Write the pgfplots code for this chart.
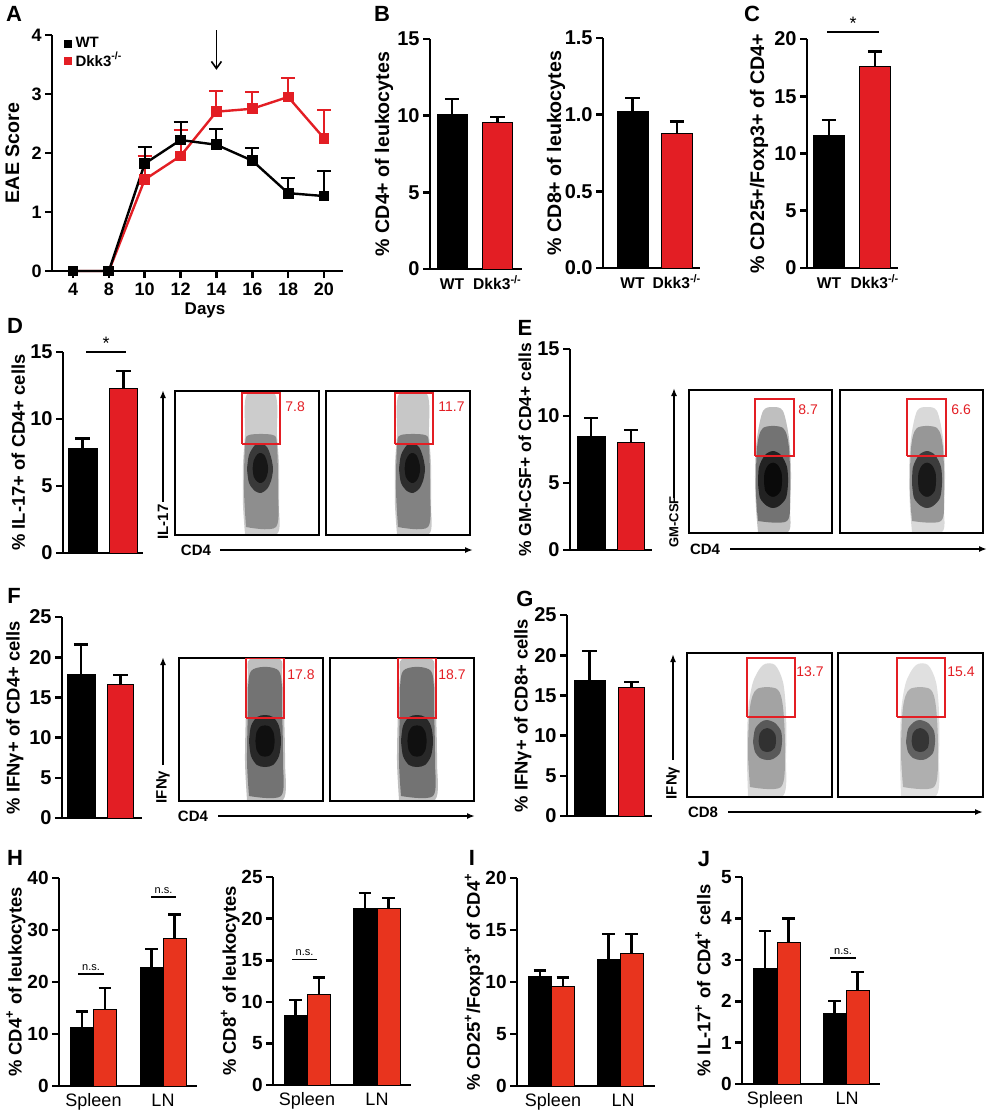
\documentclass[border=0pt]{standalone}
\usepackage{fontspec}
\setmainfont{Liberation Sans}
\usepackage{pgfplots}
\pgfplotsset{compat=1.18}
\usepackage{pgfplotstable}
\usetikzlibrary{arrows.meta}
\definecolor{rd}{RGB}{227,30,36}
\definecolor{rdh}{RGB}{232,52,30}
\newcommand\tk{\bfseries\fontsize{10}{12}\selectfont}
\newcommand\tka{\bfseries\fontsize{9}{11}\selectfont}
\newcommand\tks{\bfseries\fontsize{9.5}{11}\selectfont}
\newcommand\lb{\bfseries\fontsize{9.8}{12}\selectfont}
\newcommand\lbm{\bfseries\fontsize{9.2}{11}\selectfont}
\newcommand\lbs{\bfseries\fontsize{9.2}{11}\selectfont}
\newcommand\pl{\bfseries\fontsize{11}{13}\selectfont}
\newcommand\gt{\fontsize{7}{8}\selectfont}
\newcommand\dl{\bfseries\fontsize{7.5}{9}\selectfont}
\newcommand\cat{\bfseries\fontsize{7.8}{9}\selectfont}

% ---- flow cytometry cloud outlines (x offset from cloud centre, y in box px)
\pgfplotstableread{
x y
-16 1
16 1
18 30
18 70
16 100
14 141
-14 141
-16 100
-18 70
-18 30
-16 1
}\cDo
\pgfplotstableread{
x y
-15 8
15 8
17 45
16 90
12 100
-12 100
-16 90
-17 45
-15 8
}\cDm
\pgfplotstableread{
x y
-14 66
-12 80
-6 90
0 92
6 88
10 78
12 66
10 54
6 46
0 42
-6 44
-12 52
-14 66
}\cDc
\pgfplotstableread{
x y
-15 1
15 1
17 25
18 60
16 95
10 122
0 126
-10 122
-16 95
-18 60
-17 25
-15 1
}\cEo
\pgfplotstableread{
x y
-15 12
14 12
17 40
16 85
10 105
-10 105
-16 85
-17 40
-15 12
}\cEm
\pgfplotstableread{
x y
-15 50
-14 66
-8 78
0 82
8 78
14 66
15 50
13 35
6 27
0 25
-6 27
-13 35
-15 50
}\cEc
\pgfplotstableread{
x y
-18 1
18 1
20 40
19 90
17 125
15 142
-15 142
-17 125
-19 90
-20 40
-18 1
}\cFo
\pgfplotstableread{
x y
-16 5
16 5
18 40
17 90
14 130
-14 130
-17 90
-18 40
-16 5
}\cFm
\pgfplotstableread{
x y
-16 60
-14 75
-8 84
0 86
8 84
14 75
16 60
14 45
8 36
0 34
-8 36
-14 45
-16 60
}\cFc
\pgfplotstableread{
x y
-19 1
16 1
19 40
19 85
16 115
8 132
-4 132
-14 115
-19 85
-20 40
-19 1
}\cGo
\pgfplotstableread{
x y
-17 10
14 10
18 45
16 90
10 108
-10 108
-17 90
-19 45
-17 10
}\cGm
\pgfplotstableread{
x y
-14 55
-12 68
-6 75
0 77
8 74
14 66
15 55
13 44
6 38
0 37
-7 39
-12 45
-14 55
}\cGc

% #1 outer, #2 middle, #3 core table, #4 centre x, #5 core centre y, #6-#9 opacities
\newcommand\cloud[9]{%
 \addplot[draw=none,fill=black,fill opacity=#6,smooth,tension=0.5] table[x expr=\thisrow{x}+#4]{#1};
 \addplot[draw=none,fill=black,fill opacity=#7,smooth,tension=0.5] table[x expr=\thisrow{x}+#4]{#2};
 \addplot[draw=none,fill=black,fill opacity=#8,smooth,tension=0.5] table[x expr=\thisrow{x}+#4]{#3};
 \addplot[draw=none,fill=black,fill opacity=#9,smooth,tension=0.5] table[x expr=0.6*\thisrow{x}+#4, y expr=0.6*\thisrow{y}+0.4*#5]{#3};}
\newcommand\gate[7]{%
 \addplot[rd, line width=0.9pt, line join=miter] coordinates {(#1,#3)(#2,#3)(#2,#4)(#1,#4)(#1,#3)};
 \node[anchor=west, text=rd, font=\gt, inner sep=0pt] at (axis cs:#6,#7) {#5};}

\pgfplotsset{
 base/.style={scale only axis, clip=false, axis lines=left,
   axis line style={line width=1.3pt,-}, tick style={line width=1.3pt,black},
   major tick length=3.5pt, tick align=outside, ymin=0,
   yticklabel style={font=\tk, inner sep=1.5pt}, xticklabel style={font=\tk},
   ylabel style={font=\lb, anchor=center},
   /pgf/number format/assume math mode=true},
 ylx/.style={ylabel style={at={(axis description cs:#1,0.5)}}},
 barax/.style={base, xmin=0, xtick style={draw=none},
   xticklabel style={font=\cat, yshift=3pt, text height=6pt, text depth=1.5pt}},
 mid/.style={ylabel style={font=\lbm}},
 small/.style={yticklabel style={font=\tks}, ylabel style={font=\lbs},
   xticklabel style={font=\fontsize{9}{11}\selectfont}},
 ebar/.style={error bars/.cd, y dir=plus, y explicit, error bar style={line width=1.2pt, black},
   error mark options={rotate=90, line width=1.2pt, black, mark size=#1}},
 bk/.style={ybar, bar shift=0pt, bar width=#1, fill=black, draw=black, line width=0.5pt, ebar=3.6pt},
 rb/.style={ybar, bar shift=0pt, bar width=#1, fill=rd, draw=black, line width=0.5pt, ebar=3.6pt},
 bkh/.style={ybar, bar shift=0pt, bar width=#1, fill=black, draw=black, line width=0.5pt, ebar=3.2pt},
 rh/.style={ybar, bar shift=0pt, bar width=#1, fill=rdh, draw=black, line width=0.5pt, ebar=3.2pt},
 dot/.style={scale only axis, ticks=none, axis line style={line width=0.9pt},
   xmin=0, ymin=0, clip=true},
}

\begin{document}
\begin{tikzpicture}
\path[use as bounding box] (0,0) rectangle (496pt,-556.5pt);

% ---------------- Panel letters
\node[font=\pl] at (7pt,-7pt) {A};
\node[font=\pl] at (191pt,-7pt) {B};
\node[font=\pl] at (376pt,-7pt) {C};
\node[font=\pl] at (7.5pt,-163pt) {D};
\node[font=\pl] at (262.5pt,-164pt) {E};
\node[font=\pl] at (7pt,-298pt) {F};
\node[font=\pl] at (262.5pt,-299.5pt) {G};
\node[font=\pl] at (7.5pt,-429pt) {H};
\node[font=\pl] at (236pt,-429pt) {I};
\node[font=\pl] at (352pt,-429.5pt) {J};

% ---------------- A
\begin{axis}[base, at={(26pt,-135.5pt)}, anchor=south west, width=145.5pt, height=118pt,
  xmin=-0.586, xmax=7.53, ymax=4, ytick={0,1,2,3,4},
  yticklabel style={font=\tka}, xticklabel style={font=\tka, yshift=1pt},
  xtick={0,1,2,3,4,5,6,7}, xticklabels={4,8,10,12,14,16,18,20},
  ylabel={EAE Score}, ylx=-0.136,
  xlabel={Days}, xlabel style={font=\bfseries\fontsize{8.5}{10}\selectfont, at={(axis description cs:0.526,-0.165)}, anchor=center},
  legend style={at={(0.041,1.01)}, anchor=north west, draw=none, fill=none,
    font=\bfseries\fontsize{7.5}{9}\selectfont, inner sep=0pt, row sep=-3pt},
  legend cell align=left,
  legend image code/.code={\draw[mark repeat=2,mark phase=2,#1] plot coordinates {(0cm,0cm)(0.12cm,0cm)(0.24cm,0cm)};}]
\addlegendimage{only marks, mark=square*, mark size=1.8pt, black}
\addlegendentry{WT}
\addlegendimage{only marks, mark=square*, mark size=1.8pt, rd}
\addlegendentry{Dkk3\textsuperscript{-/-}}
\addplot[rd, line width=1.2pt, mark=square*, mark size=2.1pt, forget plot,
  error bars/.cd, y dir=plus, y explicit, error bar style={line width=1pt, rd},
  error mark options={rotate=90, line width=1pt, rd, mark size=3.5pt}]
  coordinates {(0,0) +- (0,0) (1,0) +- (0,0) (2,1.55) +- (0,0.40) (3,1.95) +- (0,0.44)
   (4,2.70) +- (0,0.35) (5,2.75) +- (0,0.28) (6,2.95) +- (0,0.32) (7,2.25) +- (0,0.48)};
\addplot[black, line width=1.2pt, mark=square*, mark size=2.1pt, forget plot,
  error bars/.cd, y dir=plus, y explicit, error bar style={line width=1pt, black},
  error mark options={rotate=90, line width=1pt, black, mark size=3.5pt}]
  coordinates {(0,0) +- (0,0) (1,0) +- (0,0) (2,1.82) +- (0,0.28) (3,2.22) +- (0,0.30)
   (4,2.14) +- (0,0.27) (5,1.87) +- (0,0.21) (6,1.32) +- (0,0.25) (7,1.27) +- (0,0.42)};
\draw[line width=0.8pt, -{Straight Barb[length=3.5pt,width=5pt]}] (axis cs:4,4.08) -- (axis cs:4,3.41);
\end{axis}

% ---------------- B1
\begin{axis}[barax, at={(215pt,-134.5pt)}, anchor=south west, width=46pt, height=115pt,
  xmax=92, ymax=15, ytick={0,5,10,15}, xtick={22,67.5}, xticklabels={WT,Dkk3\textsuperscript{-/-}},
  ylabel={\% CD4+ of leukocytes}, ylx=-0.5]
\addplot[bk=30] coordinates {(22,10.05) +- (0,1.05)};
\addplot[rb=30] coordinates {(67.5,9.55) +- (0,0.35)};
\end{axis}

% ---------------- B2
\begin{axis}[barax, at={(301.5pt,-134pt)}, anchor=south west, width=48.5pt, height=115pt,
  xmax=97, ymax=1.5, ytick={0,0.5,1,1.5},
  yticklabel style={/pgf/number format/.cd, fixed, fixed zerofill, precision=1},
  xtick={29.5,74}, xticklabels={WT,Dkk3\textsuperscript{-/-}},
  ylabel={\% CD8+ of leukocytes}, ylx=-0.485]
\addplot[bk=31] coordinates {(29.5,1.02) +- (0,0.09)};
\addplot[rb=31] coordinates {(74,0.875) +- (0,0.08)};
\end{axis}

% ---------------- C
\begin{axis}[barax, at={(403.5pt,-134pt)}, anchor=south west, width=45.5pt, height=114.5pt,
  xmax=91, ymax=20, ytick={0,5,10,15,20}, xtick={22,68}, xticklabels={WT,Dkk3\textsuperscript{-/-}},
  ylabel={\% CD25+/Foxp3+ of CD4+}, ylx=-0.527]
\addplot[bk=31] coordinates {(22,11.6) +- (0,1.3)};
\addplot[rb=31] coordinates {(68,17.6) +- (0,1.3)};
\draw[line width=0.8pt] (axis cs:20,20.6) -- (axis cs:72,20.6);
\node[anchor=base, font=\fontsize{9}{10}\selectfont, inner sep=0pt] at (axis cs:46,20.8) {*};
\end{axis}

% ---------------- D
\begin{axis}[barax, mid, at={(31.5pt,-276.5pt)}, anchor=south west, width=40pt, height=100.5pt,
  xmax=80, ymax=15, ytick={0,5,10,15}, xtick=\empty,
  ylabel={\% IL-17+ of CD4+ cells}, ylx=-0.56]
\addplot[bk=29] coordinates {(19.5,7.8) +- (0,0.75)};
\addplot[rb=28] coordinates {(60.5,12.25) +- (0,1.35)};
\draw[line width=0.8pt] (axis cs:23,15) -- (axis cs:63,15);
\node[anchor=base, font=\fontsize{9}{10}\selectfont, inner sep=0pt] at (axis cs:43,15.15) {*};
\end{axis}
\begin{axis}[dot, at={(87.5pt,-267.5pt)}, anchor=south west, width=72pt, height=72pt, xmax=144, ymax=144]
\cloud{\cDo}{\cDm}{\cDc}{86}{67}{0.2}{0.3}{0.6}{0.6}
\gate{67}{105}{91}{142}{7.8}{110}{128}
\end{axis}
\begin{axis}[dot, at={(163pt,-267.5pt)}, anchor=south west, width=72pt, height=72pt, xmax=144, ymax=144]
\cloud{\cDo}{\cDm}{\cDc}{87}{67}{0.22}{0.35}{0.65}{0.6}
\gate{69}{107}{91}{142}{11.7}{112}{128}
\end{axis}
\draw[line width=0.8pt, -{Latex[length=4pt,width=3pt]}] (81.5pt,-251pt) -- (81.5pt,-195pt);
\node[rotate=90, font=\dl] at (81.5pt,-261pt) {IL-17};
\node[font=\dl] at (98pt,-275pt) {CD4};
\draw[line width=0.8pt, -{Latex[length=4pt,width=3pt]}] (110pt,-275pt) -- (236.5pt,-275pt);

% ---------------- E
\begin{axis}[barax, at={(285pt,-275pt)}, anchor=south west, width=41pt, height=100.5pt,
  xmax=82, ymax=15, ytick={0,5,10,15}, xtick=\empty, ylabel style={font=\bfseries\fontsize{8.7}{10}\selectfont},
  ylabel={\% GM-CSF+ of CD4+ cells}, ylx=-0.55]
\addplot[bk=28] coordinates {(21,8.45) +- (0,1.4)};
\addplot[rb=27] coordinates {(61,8.0) +- (0,0.95)};
\end{axis}
\begin{axis}[dot, at={(344.5pt,-266.5pt)}, anchor=south west, width=71.5pt, height=71.5pt, xmax=143, ymax=143]
\cloud{\cEo}{\cEm}{\cEc}{84}{53}{0.25}{0.4}{0.7}{0.7}
\gate{66}{105}{77}{134}{8.7}{109}{123}
\end{axis}
\begin{axis}[dot, at={(420pt,-266.5pt)}, anchor=south west, width=71.5pt, height=71.5pt, xmax=143, ymax=143]
\cloud{\cEo}{\cEm}{\cEc}{87}{53}{0.15}{0.3}{0.6}{0.6}
\gate{67}{106}{77}{134}{6.6}{111}{123}
\end{axis}
\draw[line width=0.8pt, -{Latex[length=4pt,width=3pt]}] (337pt,-249pt) -- (337pt,-194pt);
\node[rotate=90, font=\bfseries\fontsize{6.5}{8}\selectfont] at (337pt,-261pt) {GM-CSF};
\node[font=\dl] at (352.5pt,-274.5pt) {CD4};
\draw[line width=0.8pt, -{Latex[length=4pt,width=3pt]}] (365pt,-274.5pt) -- (493.5pt,-274.5pt);

% ---------------- F
\begin{axis}[barax, mid, at={(31pt,-409pt)}, anchor=south west, width=40pt, height=100.5pt,
  xmax=80, ymax=25, ytick={0,5,10,15,20,25}, xtick=\empty,
  ylabel={\% IFNγ+ of CD4+ cells}, ylx=-0.59]
\addplot[bk=28] coordinates {(19,17.8) +- (0,3.8)};
\addplot[rb=26] coordinates {(58.5,16.6) +- (0,1.2)};
\end{axis}
\begin{axis}[dot, at={(89.5pt,-400.5pt)}, anchor=south west, width=72pt, height=71.5pt, xmax=144, ymax=143]
\cloud{\cFo}{\cFm}{\cFc}{86}{60}{0.25}{0.4}{0.65}{0.6}
\gate{67}{105}{83}{143}{17.8}{108}{126}
\end{axis}
\begin{axis}[dot, at={(165pt,-400.5pt)}, anchor=south west, width=72pt, height=71.5pt, xmax=144, ymax=143]
\cloud{\cFo}{\cFm}{\cFc}{87}{60}{0.25}{0.4}{0.65}{0.6}
\gate{68}{106}{83}{143}{18.7}{108}{126}
\end{axis}
\draw[line width=0.8pt, -{Latex[length=4pt,width=3pt]}] (81.5pt,-382.5pt) -- (81.5pt,-328.5pt);
\node[rotate=90, font=\dl] at (81.5pt,-393.5pt) {IFNγ};
\node[font=\dl] at (96.5pt,-408pt) {CD4};
\draw[line width=0.8pt, -{Latex[length=4pt,width=3pt]}] (109pt,-408pt) -- (237.5pt,-408pt);

% ---------------- G
\begin{axis}[barax, mid, at={(283.5pt,-408pt)}, anchor=south west, width=42.5pt, height=100.5pt,
  xmax=85, ymax=25, ytick={0,5,10,15,20,25}, xtick=\empty,
  ylabel={\% IFNγ+ of CD8+ cells}, ylx=-0.52]
\addplot[bk=31] coordinates {(22.5,16.8) +- (0,3.7)};
\addplot[rb=26] coordinates {(64.5,16.0) +- (0,0.7)};
\end{axis}
\begin{axis}[dot, at={(343.5pt,-398.5pt)}, anchor=south west, width=72.5pt, height=72pt, xmax=145, ymax=144]
\cloud{\cGo}{\cGm}{\cGc}{80}{57}{0.15}{0.25}{0.45}{0.45}
\gate{60}{108}{80}{139}{13.7}{109}{125}
\end{axis}
\begin{axis}[dot, at={(419pt,-398.5pt)}, anchor=south west, width=72.5pt, height=72pt, xmax=145, ymax=144]
\cloud{\cGo}{\cGm}{\cGc}{82}{57}{0.12}{0.22}{0.45}{0.45}
\gate{59}{107}{80}{139}{15.4}{109}{125}
\end{axis}
\draw[line width=0.8pt, -{Latex[length=4pt,width=3pt]}] (336.5pt,-380pt) -- (336.5pt,-327pt);
\node[rotate=90, font=\dl] at (336.5pt,-391.5pt) {IFNγ};
\node[font=\dl] at (351.5pt,-406pt) {CD8};
\draw[line width=0.8pt, -{Latex[length=4pt,width=3pt]}] (364pt,-406pt) -- (491.5pt,-406pt);

% ---------------- H1
\begin{axis}[barax, small, at={(29.5pt,-543pt)}, anchor=south west, width=69pt, height=104pt,
  xmax=138, ymax=40, ytick={0,10,20,30,40}, xtick={34.5,104}, xticklabels={Spleen,LN},
  ylabel={\% CD4\textsuperscript{+} of leukocytes}, ylx=-0.312]
\addplot[bkh=23] coordinates {(23,11.3) +- (0,3.0) (92.5,22.8) +- (0,3.5)};
\addplot[rh=23] coordinates {(46,14.8) +- (0,4.1) (115.5,28.4) +- (0,4.6)};
\draw[line width=0.8pt] (axis cs:19,21.5) -- (axis cs:45,21.5);
\node[anchor=base, font=\fontsize{5.5}{6}\selectfont, inner sep=0pt] at (axis cs:32,22.3) {n.s.};
\draw[line width=0.8pt] (axis cs:92,36.3) -- (axis cs:117,36.3);
\node[anchor=base, font=\fontsize{5.5}{6}\selectfont, inner sep=0pt] at (axis cs:104.5,37.1) {n.s.};
\end{axis}

% ---------------- H2
\begin{axis}[barax, small, at={(136.5pt,-542.5pt)}, anchor=south west, width=69pt, height=104pt,
  xmax=138, ymax=25, ytick={0,5,10,15,20,25}, xtick={34,104}, xticklabels={Spleen,LN},
  ylabel={\% CD8\textsuperscript{+} of leukocytes}, ylx=-0.31]
\addplot[bkh=23] coordinates {(22.5,8.3) +- (0,1.9) (92,21.2) +- (0,1.9)};
\addplot[rh=23] coordinates {(46,10.9) +- (0,2.0) (115.5,21.2) +- (0,1.3)};
\draw[line width=0.8pt] (axis cs:19,15.1) -- (axis cs:44,15.1);
\node[anchor=base, font=\fontsize{5.5}{6}\selectfont, inner sep=0pt] at (axis cs:31.5,15.6) {n.s.};
\end{axis}

% ---------------- I
\begin{axis}[barax, small, at={(258.5pt,-543pt)}, anchor=south west, width=69pt, height=104pt,
  xmax=138, ymax=20, ytick={0,5,10,15,20}, xtick={36,106}, xticklabels={Spleen,LN},
  ylabel={\% CD25\textsuperscript{+}/Foxp3\textsuperscript{+} of CD4\textsuperscript{+}}, ylx=-0.31]
\addplot[bkh=23] coordinates {(23,10.5) +- (0,0.6) (91.5,12.2) +- (0,2.4)};
\addplot[rh=23] coordinates {(46,9.55) +- (0,0.9) (114.5,12.75) +- (0,1.85)};
\end{axis}

% ---------------- J
\begin{axis}[barax, small, at={(371pt,-542pt)}, anchor=south west, width=69pt, height=103.5pt,
  xmax=138, ymax=5, ytick={0,1,2,3,4,5}, xtick={33,105}, xticklabels={Spleen,LN},
  ylabel={\% IL-17\textsuperscript{+} of CD4\textsuperscript{+} cells}, ylx=-0.283]
\addplot[bkh=23] coordinates {(23,2.78) +- (0,0.92) (92.5,1.7) +- (0,0.3)};
\addplot[rh=23] coordinates {(46.5,3.43) +- (0,0.57) (115.5,2.25) +- (0,0.45)};
\draw[line width=0.8pt] (axis cs:88,3.04) -- (axis cs:114,3.04);
\node[anchor=base, font=\fontsize{5.5}{6}\selectfont, inner sep=0pt] at (axis cs:101,3.14) {n.s.};
\end{axis}
\end{tikzpicture}
\end{document}
